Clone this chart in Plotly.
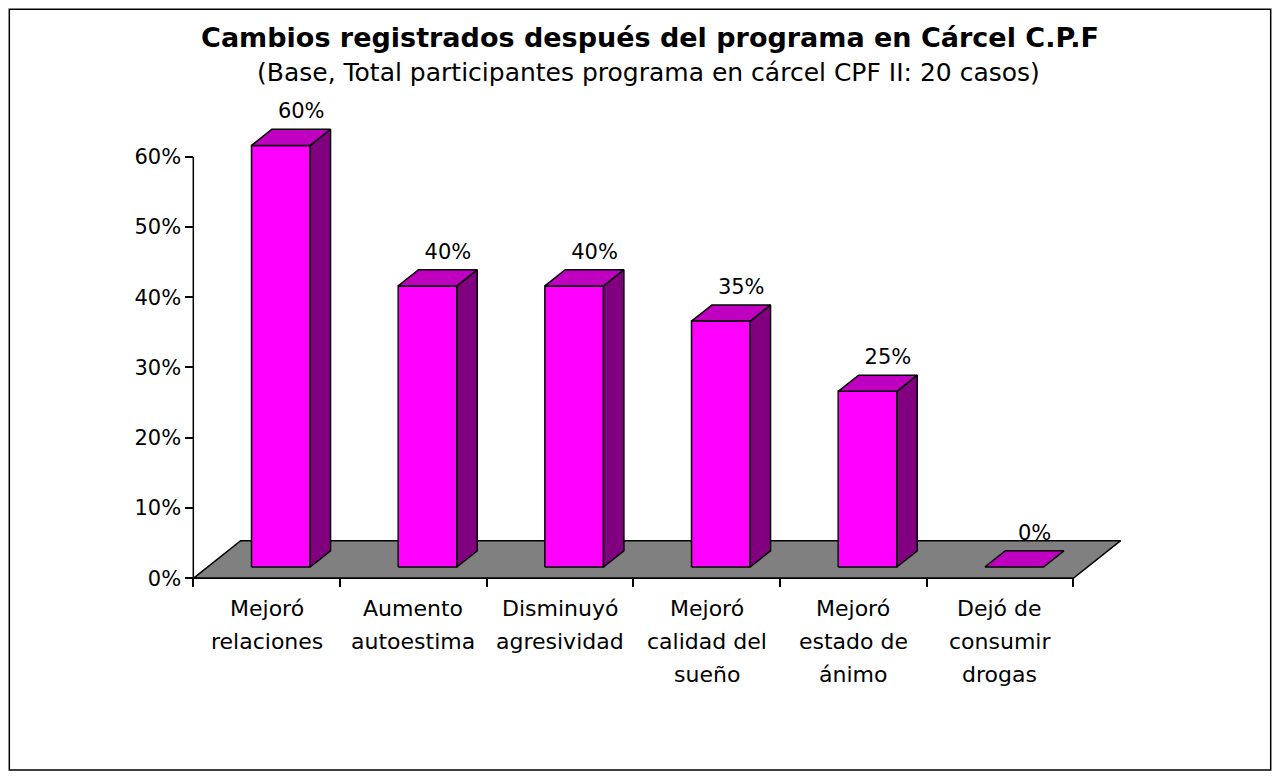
import plotly.graph_objects as go

# datos del grafico
categorias = ["Mejoró<br>relaciones", "Aumento<br>autoestima", "Disminuyó<br>agresividad",
              "Mejoró<br>calidad del<br>sueño", "Mejoró<br>estado de<br>ánimo",
              "Dejó de<br>consumir<br>drogas"]
porcentajes = [60, 40, 40, 35, 25, 0]
ticks_y = [0, 10, 20, 30, 40, 50, 60]

titulo = "Cambios registrados después del programa en Cárcel C.P.F"
subtitulo = "(Base, Total participantes programa en cárcel CPF II: 20 casos)"

# colores estilo excel
COLOR_FRENTE = "#FF00FF"
COLOR_LADO = "#800080"
COLOR_TECHO = "#C000C0"
COLOR_PISO = "#808080"
FUENTE = "DejaVu Sans"

W, H = 1282, 780
OFF = 8  # margen del body de la pagina
# pixel donde cae x=0 / y=0 y escala (px por categoria, px por %)
X0_PX, CAT_PX = 193.3 - OFF, 146.67
Y0_PX, PCT_PX = 578.3 - OFF, 7.027
M_L, M_R, M_T, M_B = 171, 151, 78, 196
plot_w = W - M_L - M_R
plot_h = H - M_T - M_B

x_rango = [(M_L - X0_PX) / CAT_PX, (W - M_R - X0_PX) / CAT_PX]
y_rango = [(Y0_PX - (H - M_B)) / PCT_PX, (Y0_PX - M_T) / PCT_PX]

# profundidad del piso (unidades de categoria y de %)
PROF_X, PROF_Y = 0.323, 5.35
MEDIO_ANCHO = 0.2
F_FRENTE, F_FONDO = 0.3, 0.73


def cara(xs, ys, color):
    return go.Scatter(
        x=xs + [xs[0]],
        y=ys + [ys[0]],
        mode="lines",
        fill="toself",
        fillcolor=color,
        line=dict(color="black", width=1.5),
        hoverinfo="skip",
        showlegend=False,
    )


n = len(categorias)
trazas = []

# piso gris
trazas.append(cara([0, n, n + PROF_X, PROF_X], [0, 0, PROF_Y, PROF_Y], COLOR_PISO))

fx, fy = F_FRENTE * PROF_X, F_FRENTE * PROF_Y
bx, by = F_FONDO * PROF_X, F_FONDO * PROF_Y

for i, v in enumerate(porcentajes):
    c = i + 0.5
    izq, der = c - MEDIO_ANCHO, c + MEDIO_ANCHO
    if v > 0:
        # frente
        trazas.append(cara([izq + fx, der + fx, der + fx, izq + fx],
                           [fy, fy, v + fy, v + fy], COLOR_FRENTE))
        # costado
        trazas.append(cara([der + fx, der + bx, der + bx, der + fx],
                           [fy, by, v + by, v + fy], COLOR_LADO))
    # techo
    trazas.append(cara([izq + fx, der + fx, der + bx, izq + bx],
                       [v + fy, v + fy, v + by, v + by], COLOR_TECHO))

# etiquetas de valor
trazas.append(go.Scatter(
    x=[i + 0.5 + bx for i in range(n)],
    y=[v + by + 2.3 for v in porcentajes],
    text=[str(v) + "%" for v in porcentajes],
    mode="text",
    textposition="middle center",
    textfont=dict(family=FUENTE, size=21, color="black"),
    cliponaxis=False,
    hoverinfo="skip",
    showlegend=False,
))

# lineas de ejes
trazas.append(go.Scatter(x=[0, 0], y=[0, max(ticks_y)], mode="lines",
                         line=dict(color="black", width=1.5),
                         hoverinfo="skip", showlegend=False))
trazas.append(go.Scatter(x=[0, n], y=[0, 0], mode="lines",
                         line=dict(color="black", width=1.5),
                         hoverinfo="skip", showlegend=False))

fig = go.Figure(data=trazas)

# etiquetas de categorias, una linea por anotacion
anotaciones = []
for i, cat in enumerate(categorias):
    for k, linea in enumerate(cat.split("<br>")):
        anotaciones.append(dict(
            x=i + 0.5, y=0, xref="x", yref="y",
            text=linea, showarrow=False,
            xanchor="center", yanchor="middle",
            yshift=-(30 + 33 * k),
            font=dict(family=FUENTE, size=22, color="black"),
        ))

anotaciones.append(dict(
    x=(648 - OFF - M_L) / plot_w, y=(H - M_B - (73 - OFF)) / plot_h,
    xref="paper", yref="paper",
    text=subtitulo, showarrow=False,
    xanchor="center", yanchor="middle",
    font=dict(family=FUENTE, size=25, color="black"),
))

fig.update_layout(
    width=W, height=H,
    margin=dict(l=M_L, r=M_R, t=M_T, b=M_B, pad=0),
    paper_bgcolor="white",
    plot_bgcolor="white",
    showlegend=False,
    title=dict(
        text="<b>" + titulo + "</b>",
        xref="container", yref="container",
        x=(650 - OFF) / W, y=1 - (38 - OFF) / H,
        xanchor="center", yanchor="middle",
        font=dict(family=FUENTE, size=27, color="black"),
    ),
    xaxis=dict(
        range=x_rango,
        anchor="free",
        position=(0 - y_rango[0]) / (y_rango[1] - y_rango[0]),
        tickvals=list(range(n + 1)),
        showticklabels=False,
        ticks="outside", ticklen=8, tickwidth=1.5, tickcolor="black",
        showline=False, showgrid=False, zeroline=False,
    ),
    yaxis=dict(
        range=y_rango,
        anchor="free",
        position=(0 - x_rango[0]) / (x_rango[1] - x_rango[0]),
        tickvals=ticks_y,
        ticktext=[str(t) + "%" for t in ticks_y],
        ticks="outside", ticklen=8, tickwidth=1.5, tickcolor="black",
        tickfont=dict(family=FUENTE, size=21, color="black"),
        showline=False, showgrid=False, zeroline=False,
    ),
    annotations=anotaciones,
    shapes=[dict(
        type="rect", xref="paper", yref="paper",
        x0=(9.3 - OFF - M_L) / plot_w, x1=(1270.7 - OFF - M_L) / plot_w,
        y0=(H - M_B - (770 - OFF)) / plot_h, y1=(H - M_B - (9.3 - OFF)) / plot_h,
        line=dict(color="black", width=1.5),
        fillcolor="rgba(0,0,0,0)",
        layer="below",
    )],
)

fig.write_html("out.html")
